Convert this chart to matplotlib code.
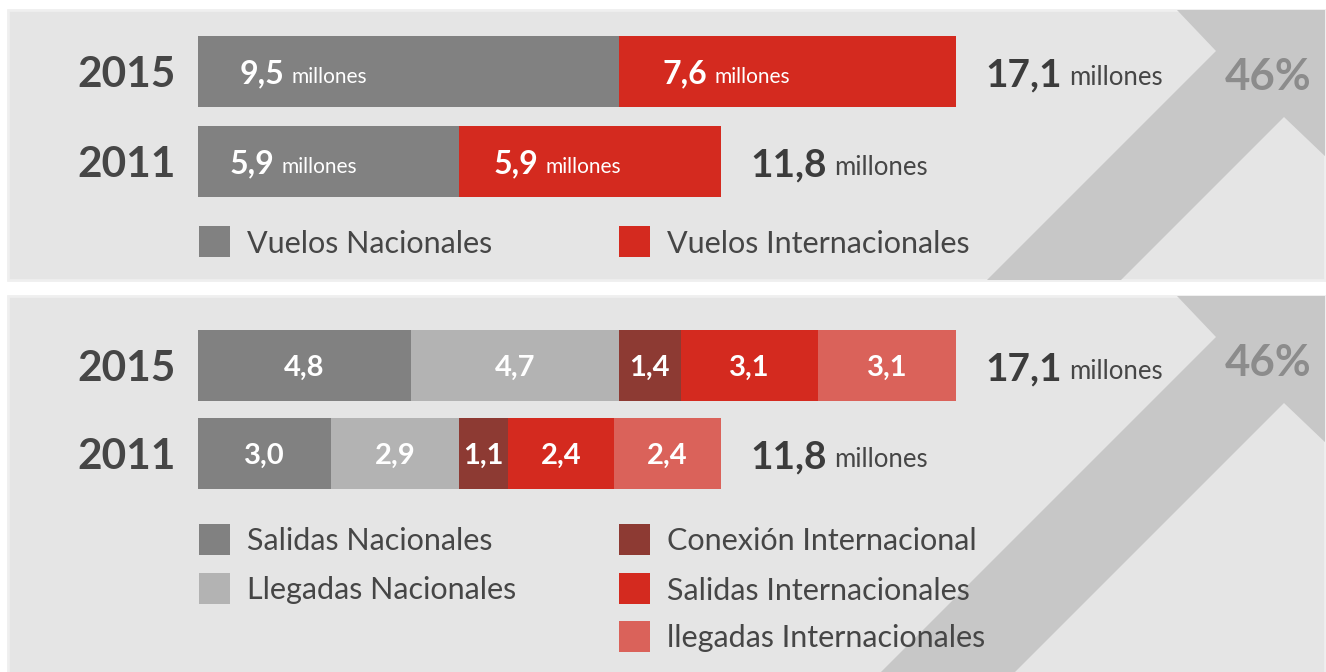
import matplotlib.pyplot as plt
import matplotlib.patches as patches

# ---- data ----
years = ["2015", "2011"]
totals = [17.1, 11.8]
growth = "46%"

vuelos_labels = ["Vuelos Nacionales", "Vuelos Internacionales"]
vuelos_nac = [9.5, 5.9]
vuelos_int = [7.6, 5.9]

seg_labels = ["Salidas Nacionales", "Llegadas Nacionales", "Conexión Internacional",
              "Salidas Internacionales", "llegadas Internacionales"]
salidas_nac = [4.8, 3.0]
llegadas_nac = [4.7, 2.9]
conexion_int = [1.4, 1.1]
salidas_int = [3.1, 2.4]
llegadas_int = [3.1, 2.4]

# ---- style ----
C_NAC = "#818181"
C_LLNAC = "#b3b3b3"
C_CONX = "#8d3a33"
C_INT = "#d42a1f"
C_LLINT = "#da625a"
C_BG = "#e5e5e5"
C_ARROW = "#c7c7c7"
C_TXT = "#464646"
FONT = "Lato"

W, H = 1326, 672
PX = 44.3          # pixels per million
X0 = 198           # pixel where bars start
PT = 0.72          # points per pixel at 100 dpi


def fmt(v):
    return f"{v:.1f}".replace(".", ",")


fig = plt.figure(figsize=(W / 100, H / 100), dpi=100)
fig.patch.set_facecolor("white")

# background panels and arrows (pixel coordinates)
bg = fig.add_axes([0, 0, 1, 1])
bg.set_xlim(0, W)
bg.set_ylim(H, 0)
bg.axis("off")

for top, height in [(10, 270), (296, 380)]:
    rect = patches.Rectangle((8, top), W - 9, height, facecolor=C_BG,
                             edgecolor="#efefef", lw=2)
    bg.add_patch(rect)
    L = 600
    pts = [(1177, top), (W + 2, top), (W + 2, top + 149), (1284, top + 107),
           (1284 - L, top + 107 + L), (1216 - L, top + 41 + L), (1216, top + 41)]
    arrow = patches.Polygon(pts, closed=True, facecolor=C_ARROW, edgecolor="none")
    bg.add_patch(arrow)
    arrow.set_clip_path(rect)
    bg.text(1268, top + 64, growth, ha="center", va="center_baseline",
            fontsize=31.5, fontweight="bold", color="#8c8c8c", family=FONT)


def data_axes(row0_px, spacing):
    ax = fig.add_axes([0, 0, 1, 1])
    ax.set_xlim(-X0 / PX, (W - X0) / PX)
    ax.set_ylim((H - row0_px) / spacing, -row0_px / spacing)
    ax.axis("off")
    ax.patch.set_alpha(0)
    return ax


def two_part(ax, x, y, num, size_num, size_word, dx_px, color_num, color_word):
    t1 = ax.annotate(num, xy=(x, y), xytext=(dx_px * PT, 0), textcoords="offset points",
                     ha="left", va="center_baseline", fontsize=size_num,
                     fontweight="bold", color=color_num, family=FONT)
    ax.annotate("millones", xy=(1, 0), xycoords=t1,
                xytext=(7 * PT, (size_num - size_word) * 0.17), textcoords="offset points",
                ha="left", va="bottom", fontsize=size_word, color=color_word, family=FONT)


# ---- panel 1 ----
ax1 = data_axes(71.5, 90)
rows = range(len(years))
h1 = 71 / 90
ax1.barh(rows, vuelos_nac, height=h1, color=C_NAC)
ax1.barh(rows, vuelos_int, left=vuelos_nac, height=h1, color=C_INT)
in_off = [42, 32]
for i in rows:
    ax1.annotate(years[i], xy=(0, i), xytext=(-22 * PT, 0), textcoords="offset points",
                 ha="right", va="center_baseline", fontsize=30.5, fontweight="bold",
                 color=C_TXT, family=FONT)
    two_part(ax1, 0, i, fmt(vuelos_nac[i]), 23, 15, in_off[i], "white", "white")
    two_part(ax1, vuelos_nac[i], i, fmt(vuelos_int[i]), 23, 15, in_off[i] + 2, "white", "white")
    two_part(ax1, totals[i], i, fmt(totals[i]), 28, 18.5, 30, "#3c3c3c", C_TXT)

for k, (lab, col) in enumerate(zip(vuelos_labels, [C_NAC, C_INT])):
    x = 199 + k * 420
    bg.add_patch(patches.Rectangle((x, 226), 31, 31, facecolor=col, edgecolor="none"))
    bg.text(x + 48, 241.5, lab, ha="left", va="center_baseline", fontsize=22,
            color=C_TXT, family=FONT)

# ---- panel 2 ----
ax2 = data_axes(365.5, 88)
h2 = 71 / 88
series = [salidas_nac, llegadas_nac, conexion_int, salidas_int, llegadas_int]
seg_colors = [C_NAC, C_LLNAC, C_CONX, C_INT, C_LLINT]
left = [0.0] * len(years)
for vals, col in zip(series, seg_colors):
    ax2.barh(rows, vals, left=left, height=h2, color=col)
    for i in rows:
        ax2.text(left[i] + vals[i] / 2, i, fmt(vals[i]), ha="center",
                 va="center_baseline", fontsize=21, fontweight="bold",
                 color="white", family=FONT)
    left = [a + b for a, b in zip(left, vals)]

for i in rows:
    ax2.annotate(years[i], xy=(0, i), xytext=(-22 * PT, 0), textcoords="offset points",
                 ha="right", va="center_baseline", fontsize=30.5, fontweight="bold",
                 color=C_TXT, family=FONT)
    two_part(ax2, totals[i], i, fmt(totals[i]), 28, 18.5, 30, "#3c3c3c", C_TXT)

leg_pos = [(199, 539), (199, 588), (619, 539), (619, 588), (619, 636)]
for (x, y), lab, col in zip(leg_pos, seg_labels, seg_colors):
    bg.add_patch(patches.Rectangle((x, y - 15.5), 31, 31, facecolor=col, edgecolor="none"))
    bg.text(x + 48, y, lab, ha="left", va="center_baseline", fontsize=22,
            color=C_TXT, family=FONT)

fig.savefig("out.png", dpi=100, facecolor="white")
